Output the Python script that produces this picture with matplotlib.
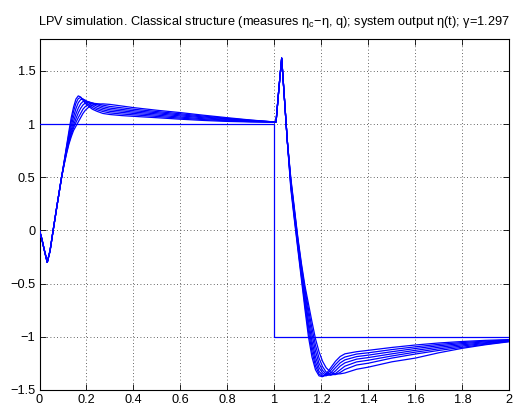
import matplotlib
matplotlib.use("Agg")
import matplotlib.pyplot as plt
import numpy as np

plt.rcParams['font.family'] = ['Liberation Sans', 'DejaVu Sans']
plt.rcParams['mathtext.fontset'] = 'custom'
plt.rcParams['mathtext.rm'] = 'Liberation Sans'
plt.rcParams['mathtext.it'] = 'Liberation Sans'

# ---- data ----
t_part1 = [0, 0.01, 0.02, 0.033, 0.045, 0.058, 0.075, 0.094, 0.105, 0.115, 0.125,
           0.135, 0.145, 0.155, 0.165, 0.175, 0.185, 0.195, 0.21, 0.225, 0.245,
           0.27, 0.3, 0.35, 0.4, 0.5, 0.6, 0.7, 0.8, 0.9, 1.0]
common_start = [0, -0.08, -0.18, -0.30, -0.19, 0.0, 0.24, 0.50]
part1_tail = [
    [0.65, 0.79, 0.93, 1.06, 1.16, 1.235, 1.265, 1.255, 1.225, 1.195, 1.165, 1.14, 1.12, 1.10, 1.09, 1.08, 1.073, 1.06, 1.046, 1.034, 1.025, 1.02, 1.018],
    [0.645, 0.78, 0.905, 1.02, 1.12, 1.195, 1.24, 1.25, 1.235, 1.21, 1.18, 1.155, 1.135, 1.118, 1.105, 1.095, 1.087, 1.072, 1.056, 1.042, 1.031, 1.023, 1.019],
    [0.64, 0.765, 0.875, 0.98, 1.07, 1.145, 1.2, 1.23, 1.235, 1.225, 1.198, 1.172, 1.15, 1.133, 1.12, 1.11, 1.10, 1.084, 1.066, 1.05, 1.037, 1.026, 1.019],
    [0.635, 0.755, 0.855, 0.945, 1.025, 1.095, 1.15, 1.19, 1.212, 1.218, 1.21, 1.19, 1.167, 1.148, 1.135, 1.124, 1.113, 1.096, 1.077, 1.059, 1.043, 1.03, 1.02],
    [0.63, 0.745, 0.84, 0.92, 0.99, 1.05, 1.105, 1.148, 1.18, 1.198, 1.207, 1.20, 1.182, 1.163, 1.15, 1.138, 1.126, 1.107, 1.087, 1.067, 1.049, 1.033, 1.02],
    [0.625, 0.73, 0.825, 0.90, 0.965, 1.015, 1.06, 1.10, 1.14, 1.165, 1.187, 1.196, 1.192, 1.178, 1.166, 1.153, 1.14, 1.118, 1.097, 1.075, 1.054, 1.036, 1.02],
    [0.62, 0.72, 0.81, 0.88, 0.94, 0.98, 1.02, 1.06, 1.10, 1.13, 1.16, 1.178, 1.188, 1.19, 1.185, 1.17, 1.155, 1.13, 1.108, 1.083, 1.06, 1.038, 1.02],
]

t_part2 = [1.0, 1.007, 1.019, 1.031, 1.043, 1.055, 1.07, 1.085, 1.1, 1.115, 1.13,
           1.145, 1.16, 1.175, 1.19, 1.205, 1.22, 1.24, 1.26, 1.28, 1.3, 1.35,
           1.4, 1.5, 1.6, 1.7, 1.8, 1.9, 2.0]
common_peak = [1.018, 1.02, 1.33, 1.62, 1.23, 0.84]
part2_tail = [
    [0.39, 0.10, -0.18, -0.46, -0.74, -1.00, -1.19, -1.31, -1.367, -1.375, -1.35, -1.29, -1.23, -1.185, -1.16, -1.14, -1.127, -1.10, -1.077, -1.058, -1.044, -1.033, -1.026],
    [0.41, 0.12, -0.16, -0.43, -0.70, -0.95, -1.14, -1.275, -1.35, -1.372, -1.36, -1.315, -1.26, -1.215, -1.19, -1.162, -1.15, -1.12, -1.094, -1.071, -1.054, -1.04, -1.03],
    [0.43, 0.14, -0.14, -0.41, -0.66, -0.90, -1.09, -1.235, -1.325, -1.36, -1.367, -1.34, -1.29, -1.245, -1.217, -1.186, -1.172, -1.14, -1.11, -1.084, -1.064, -1.047, -1.033],
    [0.45, 0.16, -0.12, -0.38, -0.62, -0.85, -1.04, -1.19, -1.29, -1.34, -1.362, -1.358, -1.32, -1.275, -1.245, -1.21, -1.195, -1.16, -1.127, -1.098, -1.075, -1.055, -1.037],
    [0.46, 0.18, -0.10, -0.35, -0.58, -0.79, -0.98, -1.135, -1.25, -1.315, -1.35, -1.36, -1.345, -1.31, -1.276, -1.236, -1.22, -1.18, -1.144, -1.113, -1.086, -1.062, -1.04],
    [0.475, 0.195, -0.085, -0.33, -0.55, -0.74, -0.92, -1.08, -1.20, -1.28, -1.33, -1.355, -1.355, -1.335, -1.307, -1.265, -1.248, -1.20, -1.162, -1.128, -1.098, -1.069, -1.043],
    [0.49, 0.21, -0.07, -0.31, -0.52, -0.69, -0.86, -1.02, -1.14, -1.23, -1.29, -1.335, -1.35, -1.348, -1.34, -1.305, -1.285, -1.235, -1.20, -1.15, -1.108, -1.074, -1.046],
]

ref_t = [0, 1, 1, 2]
ref_y = [1, 1, -1, -1]

x_ticks = [0, 0.2, 0.4, 0.6, 0.8, 1, 1.2, 1.4, 1.6, 1.8, 2]
x_labels = ["0", "0.2", "0.4", "0.6", "0.8", "1", "1.2", "1.4", "1.6", "1.8", "2"]
y_ticks = [-1.5, -1, -0.5, 0, 0.5, 1, 1.5]
y_labels = ["\u22121.5", "\u22121", "\u22120.5", "0", "0.5", "1", "1.5"]

title = "LPV simulation. Classical structure (measures \u03b7$_\\mathregular{c}$\u2212\u03b7, q); system output \u03b7(t); \u03b3=1.297"

# ---- figure ----
fig = plt.figure(figsize=(5.21, 4.08), dpi=100)
ax = fig.add_axes([39.5 / 521, 1 - 390 / 408, (509.3 - 39.5) / 521, (390 - 39) / 408])

blue = (0, 0, 1)
ax.plot(ref_t, ref_y, color=blue, lw=0.9, zorder=3)
for k in range(len(part1_tail)):
    ax.plot(t_part1, common_start + part1_tail[k], color=blue, lw=0.9, zorder=3)
    ax.plot(t_part2, common_peak + part2_tail[k], color=blue, lw=0.9, zorder=3)

ax.set_xlim(0, 2)
ax.set_ylim(-1.5, 1.8)
ax.set_xticks(x_ticks)
ax.set_xticklabels(x_labels)
ax.set_yticks(y_ticks)
ax.set_yticklabels(y_labels)
ax.tick_params(direction='in', top=True, right=True, length=4, width=0.6,
               labelsize=9.2, pad=3, colors='black')
ax.grid(True, linestyle=(0, (1, 3)), color='black', linewidth=0.6, alpha=0.8)
for s in ax.spines.values():
    s.set_linewidth(0.8)

ax.set_title(title, fontsize=9.2, pad=10)

fig.savefig("out.png", dpi=100)
